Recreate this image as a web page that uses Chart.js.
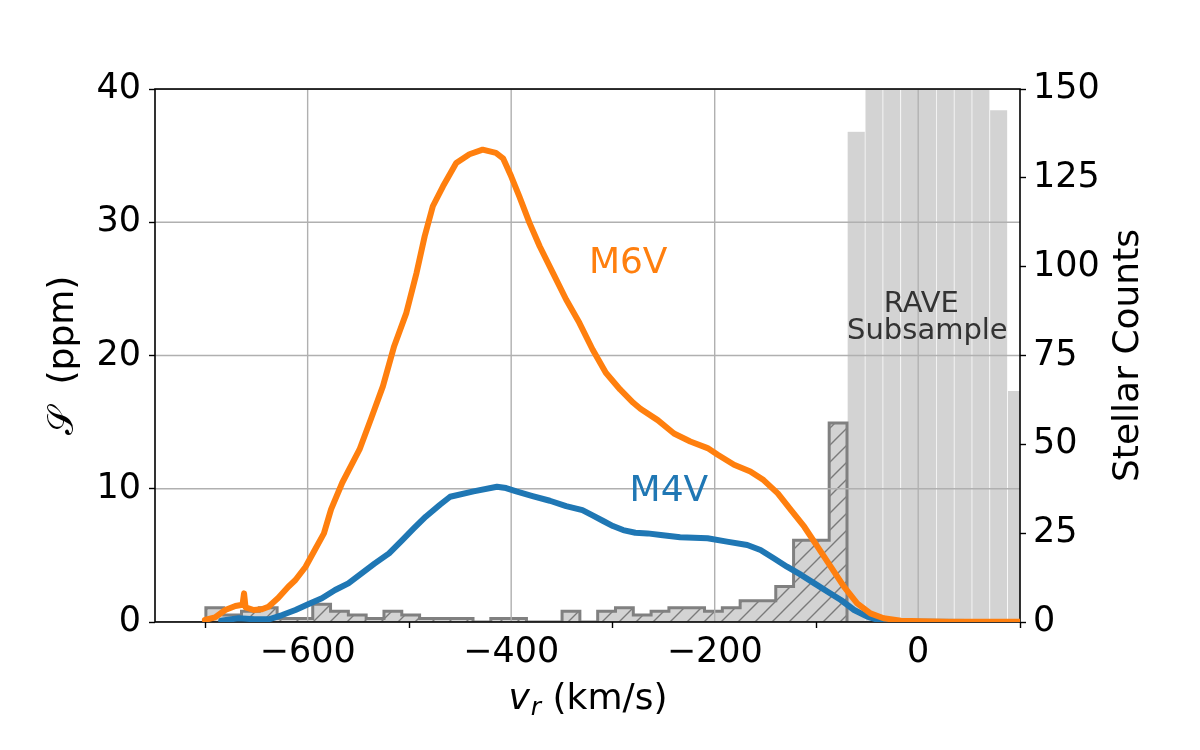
<!DOCTYPE html>
<html>
<head>
<meta charset="utf-8">
<script src="https://cdn.jsdelivr.net/npm/chart.js@4.4.1/dist/chart.umd.min.js"></script>
<style>
  html, body { margin: 0; padding: 0; background: #fff; }
</style>
</head>
<body>
<canvas id="chart" width="1200" height="750"></canvas>
<script>
// tick labels
const xTicks = [-600, -400, -200, 0];
const sTicks = [0, 10, 20, 30, 40];
const countTicks = [0, 25, 50, 75, 100, 125, 150];

// M6V signal curve: v_r (km/s) and S (ppm)
const m6vV = [-701, -691, -681, -671, -664, -662.5, -661, -653, -645, -638.5, -629, -619, -612, -602, -593, -584, -577, -566, -549, -538, -526, -515, -503, -493, -485, -477, -467, -454, -441, -428, -415, -408, -400, -392, -382, -372, -359, -346, -333, -320, -307, -293, -280, -273, -256, -240, -224, -207, -197, -181, -165, -152, -138, -125, -112, -99, -86, -73, -60, -47, -34, -17, 3, 30, 60, 100];
const m6vS = [0.15, 0.35, 0.9, 1.2, 1.3, 2.15, 1.1, 0.9, 0.95, 1.15, 1.8, 2.65, 3.15, 4.15, 5.4, 6.65, 8.45, 10.45, 12.95, 15.2, 17.7, 20.7, 23.2, 26.2, 28.95, 31.2, 32.7, 34.45, 35.1, 35.45, 35.2, 34.8, 33.45, 31.95, 29.95, 28.2, 26.2, 24.2, 22.45, 20.45, 18.7, 17.45, 16.45, 16.0, 15.15, 14.15, 13.55, 13.05, 12.55, 11.8, 11.3, 10.65, 9.65, 8.4, 7.15, 5.65, 4.15, 2.65, 1.4, 0.65, 0.28, 0.1, 0.05, 0.02, 0.01, 0.01];

// M4V signal curve
const m4vV = [-685, -668, -652, -638, -625, -612, -599, -586, -573, -560, -547, -534, -520, -507, -496, -484, -470, -460, -437, -414, -405, -395, -379, -362, -346, -330, -320, -310, -300, -290, -278, -266, -253, -234, -207, -188, -168, -155, -142, -129, -115, -102, -89, -76, -63, -50, -37, -24, 0, 50, 100];
const m4vS = [0.1, 0.28, 0.2, 0.2, 0.52, 0.9, 1.35, 1.78, 2.4, 2.9, 3.65, 4.4, 5.15, 6.15, 7.0, 7.9, 8.8, 9.4, 9.8, 10.15, 10.05, 9.8, 9.45, 9.1, 8.7, 8.4, 8.0, 7.6, 7.2, 6.9, 6.7, 6.65, 6.53, 6.36, 6.28, 6.03, 5.78, 5.4, 4.78, 4.15, 3.53, 2.9, 2.27, 1.65, 0.9, 0.4, 0.1, 0.02, 0.01, 0, 0];

// hatched histogram: bin edges (km/s) and stellar counts
const hatchEdges = [-700, -682.5, -665, -647.5, -630, -612.5, -595, -577.5, -560, -542.5, -525, -507.5, -490, -472.5, -455, -437.5, -420, -402.5, -385, -367.5, -350, -332.5, -315, -297.5, -280, -262.5, -245, -227.5, -210, -192.5, -175, -157.5, -140, -122.5, -105, -87.5, -70];
const hatchCounts = [4, 2, 3, 4, 1, 1, 5, 3, 2, 1, 3, 2, 1, 1, 1, 0, 1, 1, 0, 0, 3, 0, 3, 4, 2, 3, 4, 4, 3, 4, 6, 6, 10, 23, 23, 56];

// RAVE subsample histogram (tops above 150 are cut off by the axis)
const raveEdges = [-70, -52.5, -35, -17.5, 0, 17.5, 35, 52.5, 70, 87.5, 105];
const raveCounts = [138, 172, 214, 251, 266, 243, 205, 168, 144, 65];

const FONT = "'DejaVu Sans', 'Noto Sans', sans-serif";
const ORANGE = "#ff7f0e";
const BLUE = "#1f77b4";

function hatchPattern() {
  const s = 17;
  const c = document.createElement("canvas");
  c.width = s; c.height = s;
  const g = c.getContext("2d");
  g.fillStyle = "#d3d3d3";
  g.fillRect(0, 0, s, s);
  g.strokeStyle = "#7a7a7a";
  g.lineWidth = 1.4;
  g.beginPath();
  g.moveTo(-1, s + 1); g.lineTo(s + 1, -1);
  g.moveTo(-s / 2 - 1, s / 2 + 1); g.lineTo(s / 2 + 1, -s / 2 - 1);
  g.moveTo(s / 2 - 1, s * 1.5 + 1); g.lineTo(s * 1.5 + 1, s / 2 - 1);
  g.stroke();
  return g.createPattern(c, "repeat");
}

const pts = (xs, ys) => xs.map((x, i) => ({ x, y: ys[i] }));
const hatchStep = [{ x: hatchEdges[0], y: 0 }]
  .concat(hatchCounts.map((c, i) => ({ x: hatchEdges[i], y: c })))
  .concat([{ x: hatchEdges[hatchEdges.length - 1], y: 0 }]);
const raveBars = raveCounts.map((c, i) => ({ x: (raveEdges[i] + raveEdges[i + 1]) / 2, y: c }));

const minus = (v) => (v < 0 ? "\u2212" + Math.abs(v) : String(v));

const mplLook = {
  id: "mplLook",
  beforeDatasetDraw(chart, args) {
    if (args.index !== 1) return; // grid and frame go under the curves, over the histograms
    const { ctx, chartArea: a, scales } = chart;
    ctx.save();
    ctx.beginPath();
    ctx.rect(a.left, a.top, a.width, a.height);
    ctx.clip();
    ctx.strokeStyle = "#b0b0b0";
    ctx.lineWidth = 1.4;
    ctx.beginPath();
    xTicks.forEach((v) => {
      const px = scales.x.getPixelForValue(v);
      ctx.moveTo(px, a.top); ctx.lineTo(px, a.bottom);
    });
    sTicks.forEach((v) => {
      const py = scales.y.getPixelForValue(v);
      ctx.moveTo(a.left, py); ctx.lineTo(a.right, py);
    });
    ctx.stroke();
    ctx.restore();
    ctx.save();
    ctx.strokeStyle = "#000";
    ctx.lineWidth = 1.6;
    ctx.strokeRect(a.left, a.top, a.width, a.height);
    ctx.restore();
  },
  afterDatasetsDraw(chart) {
    const { ctx, scales } = chart;
    const at = (v, s) => [scales.x.getPixelForValue(v), scales.y.getPixelForValue(s)];
    ctx.save();
    ctx.textAlign = "center";
    ctx.textBaseline = "middle";
    ctx.font = "36px " + FONT;
    ctx.fillStyle = ORANGE;
    let p = at(-285, 26.9);
    ctx.fillText("M6V", p[0], p[1]);
    ctx.fillStyle = BLUE;
    p = at(-245, 9.75);
    ctx.fillText("M4V", p[0], p[1]);
    ctx.fillStyle = "#333";
    ctx.font = "29px " + FONT;
    ctx.textBaseline = "alphabetic";
    p = at(3, 23.3);
    ctx.fillText("RAVE", p[0], p[1]);
    p = at(9, 21.25);
    ctx.fillText("Subsample", p[0], p[1]);
    ctx.restore();

    // axis titles
    const a = chart.chartArea;
    ctx.save();
    ctx.fillStyle = "#000";
    ctx.textBaseline = "alphabetic";
    // x title: v_r (km/s)
    const big = "36px " + FONT, ital = "italic 36px " + FONT, sub = "italic 25px " + FONT;
    ctx.font = ital; const wv = ctx.measureText("v").width;
    ctx.font = sub; const wr = ctx.measureText("r").width;
    ctx.font = big; const wt = ctx.measureText(" (km/s)").width;
    let x0 = (a.left + a.right) / 2 - (wv + wr + wt) / 2;
    const base = 709;
    ctx.textAlign = "left";
    ctx.font = ital; ctx.fillText("v", x0, base);
    ctx.font = sub; ctx.fillText("r", x0 + wv + 1, base + 6);
    ctx.font = big; ctx.fillText(" (km/s)", x0 + wv + wr + 1, base);
    // left title
    ctx.textAlign = "center";
    ctx.textBaseline = "middle";
    ctx.save();
    ctx.translate(64, (a.top + a.bottom) / 2);
    ctx.rotate(-Math.PI / 2);
    ctx.font = big;
    ctx.fillText("\uD835\uDCAE  (ppm)", 0, 0);
    ctx.restore();
    ctx.save();
    ctx.translate(1129, (a.top + a.bottom) / 2);
    ctx.rotate(-Math.PI / 2);
    ctx.font = big;
    ctx.fillText("Stellar Counts", 0, 0);
    ctx.restore();
    ctx.restore();
  }
};

const tickFont = { family: FONT, size: 35 };

new Chart(document.getElementById("chart"), {
  type: "line",
  data: {
    datasets: [
      { label: "M6V", data: pts(m6vV, m6vS), yAxisID: "y", borderColor: ORANGE, borderWidth: 6,
        pointRadius: 0, tension: 0, fill: false, order: 0, borderJoinStyle: "round", borderCapStyle: "round" },
      { label: "M4V", data: pts(m4vV, m4vS), yAxisID: "y", borderColor: BLUE, borderWidth: 6,
        pointRadius: 0, tension: 0, fill: false, order: 1, borderJoinStyle: "round", borderCapStyle: "round" },
      { label: "hatched", data: hatchStep, yAxisID: "y2", stepped: "before", borderColor: "#808080",
        borderWidth: 3, backgroundColor: hatchPattern(), fill: "origin", pointRadius: 0, order: 2 },
      { type: "bar", label: "RAVE Subsample", data: raveBars, yAxisID: "y2", backgroundColor: "#d3d3d3",
        borderColor: "rgba(255,255,255,0.25)", borderWidth: { left: 1, right: 0, top: 0, bottom: 0 },
        barPercentage: 1, categoryPercentage: 1, order: 3 }
    ]
  },
  options: {
    responsive: false,
    animation: false,
    devicePixelRatio: 1,
    layout: { padding: { top: 89, left: 0, right: 0, bottom: 0 } },
    plugins: { legend: { display: false }, tooltip: { enabled: false } },
    scales: {
      x: {
        type: "linear", min: -750, max: 100, offset: false,
        afterBuildTicks: (s) => { s.ticks = xTicks.map((v) => ({ value: v })); },
        afterFit: (s) => { s.height = 128; },
        ticks: { font: tickFont, color: "#000", padding: 4, maxRotation: 0, callback: minus },
        grid: { drawOnChartArea: false, tickLength: 6, tickColor: "#000", tickWidth: 1.4 },
        border: { display: false }
      },
      y: {
        position: "left", min: 0, max: 40,
        afterBuildTicks: (s) => { s.ticks = sTicks.map((v) => ({ value: v })); },
        afterFit: (s) => { s.width = 155; },
        ticks: { font: tickFont, color: "#000", padding: 8, callback: minus },
        grid: { drawOnChartArea: false, tickLength: 6, tickColor: "#000", tickWidth: 1.4 },
        border: { display: false }
      },
      y2: {
        position: "right", min: 0, max: 150,
        afterBuildTicks: (s) => { s.ticks = countTicks.map((v) => ({ value: v })); },
        afterFit: (s) => { s.width = 180; },
        ticks: { font: tickFont, color: "#000", padding: 7 },
        grid: { drawOnChartArea: false, tickLength: 6, tickColor: "#000", tickWidth: 1.4 },
        border: { display: false }
      }
    }
  },
  plugins: [mplLook]
});
</script>
</body>
</html>
